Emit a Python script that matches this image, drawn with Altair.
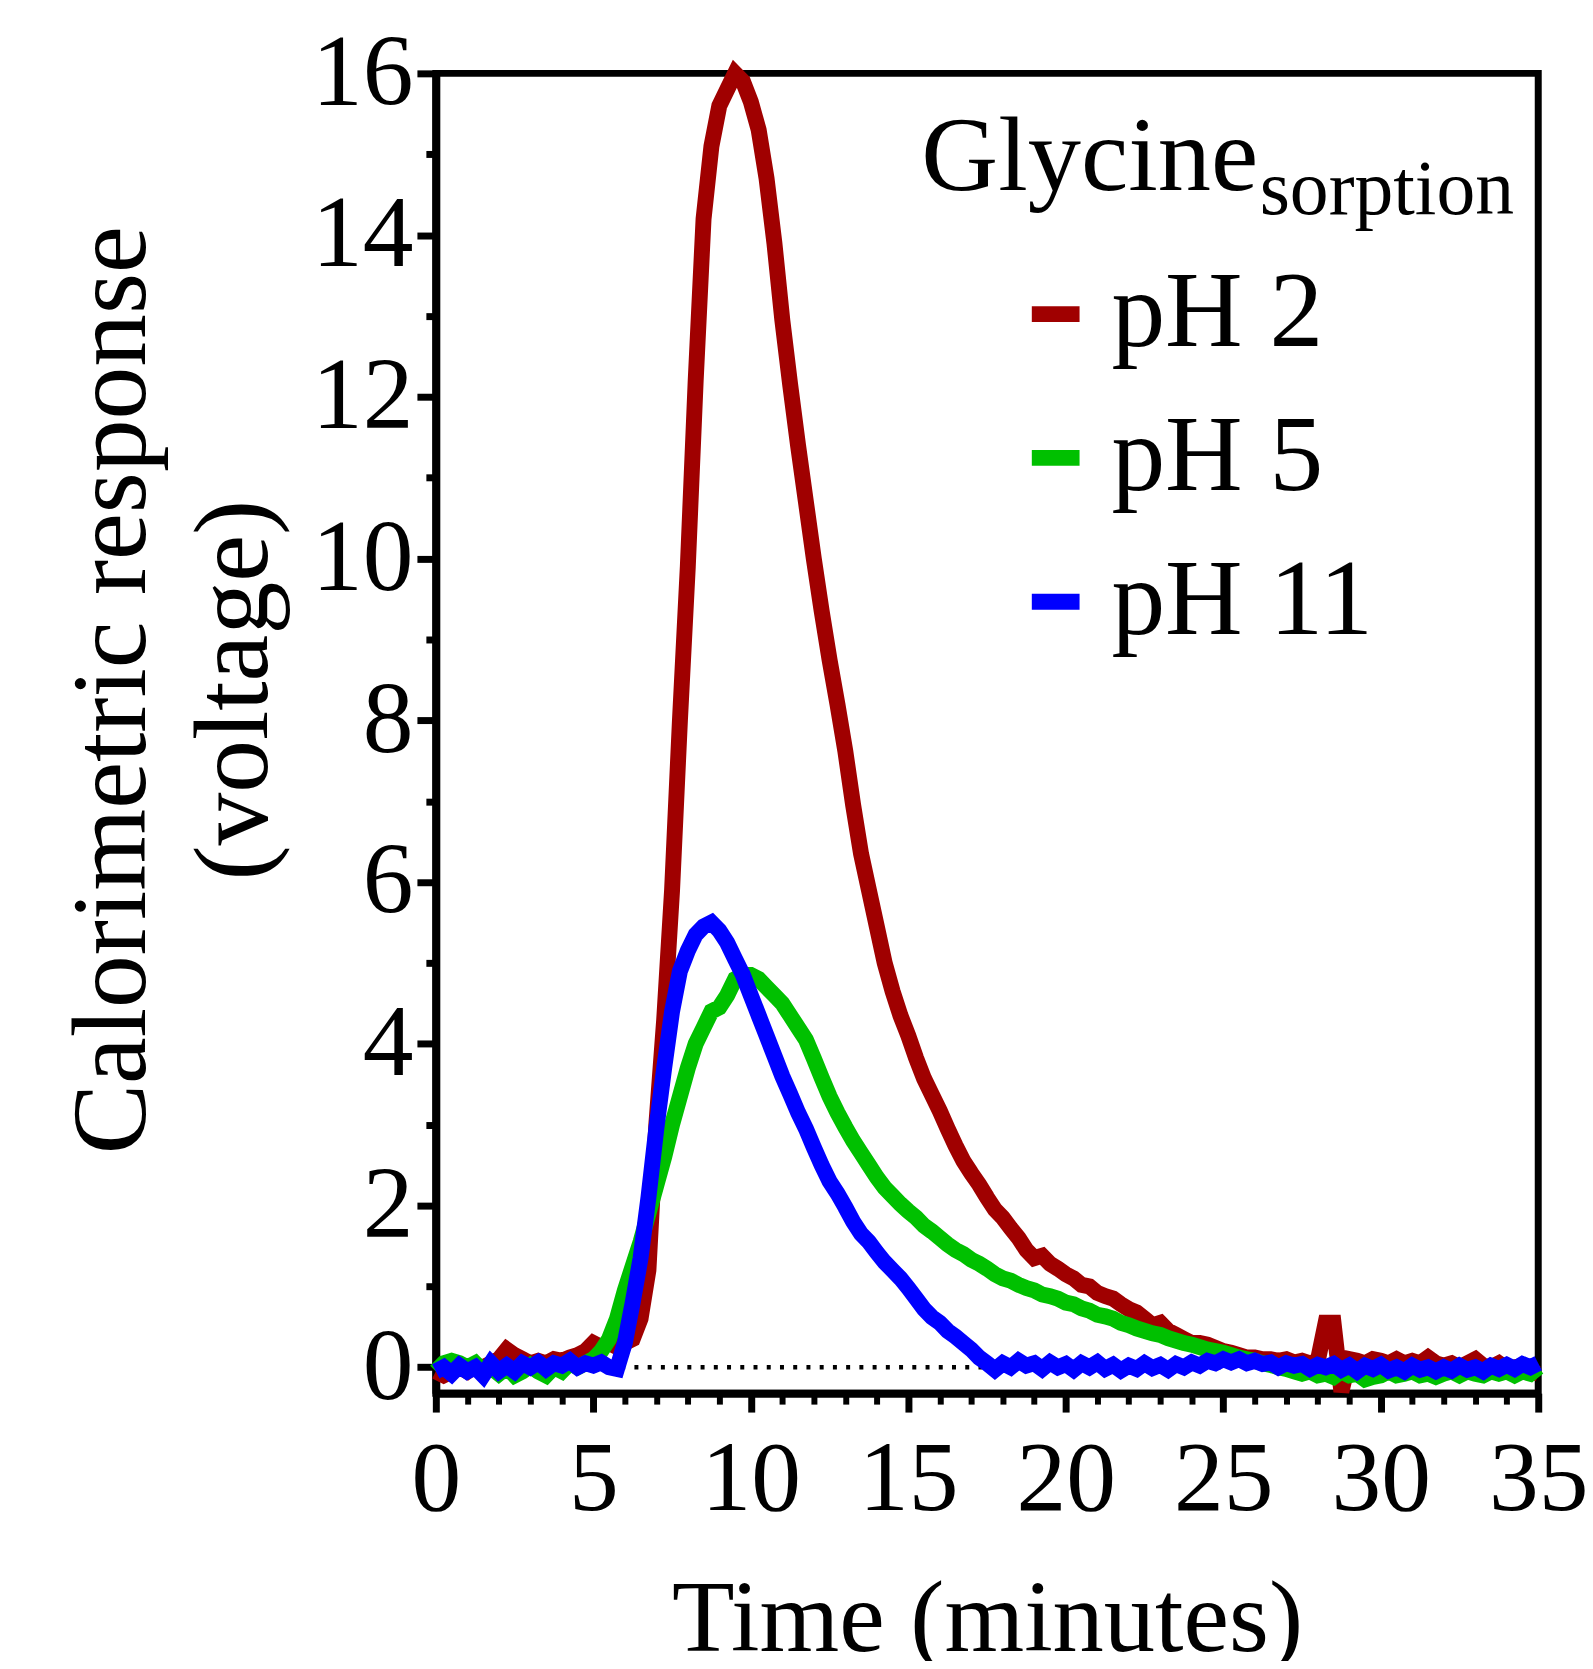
import altair as alt
import pandas as pd

FONT = "Liberation Serif"

series_names = ["pH 2", "pH 5", "pH 11"]
series_colors = ["#A00000", "#00C000", "#0000FF"]

time_min = [
    0, 0.25, 0.5, 0.75, 1, 1.25, 1.5, 1.75, 2, 2.25, 2.5, 2.75, 3, 3.25, 3.5, 3.75, 4, 4.25, 4.5, 4.75,
    5, 5.25, 5.5, 5.75, 6, 6.25, 6.5, 6.75, 7, 7.25, 7.5, 7.75, 8, 8.25, 8.5, 8.75, 9, 9.25, 9.5, 9.75,
    10, 10.25, 10.5, 10.75, 11, 11.25, 11.5, 11.75, 12, 12.25, 12.5, 12.75, 13, 13.25, 13.5, 13.75, 14, 14.25, 14.5, 14.75,
    15, 15.25, 15.5, 15.75, 16, 16.25, 16.5, 16.75, 17, 17.25, 17.5, 17.75, 18, 18.25, 18.5, 18.75, 19, 19.25, 19.5, 19.75,
    20, 20.25, 20.5, 20.75, 21, 21.25, 21.5, 21.75, 22, 22.25, 22.5, 22.75, 23, 23.25, 23.5, 23.75, 24, 24.25, 24.5, 24.75,
    25, 25.25, 25.5, 25.75, 26, 26.25, 26.5, 26.75, 27, 27.25, 27.5, 27.75, 28, 28.25, 28.5, 28.75, 29, 29.25, 29.5, 29.75,
    30, 30.25, 30.5, 30.75, 31, 31.25, 31.5, 31.75, 32, 32.25, 32.5, 32.75, 33, 33.25, 33.5, 33.75, 34, 34.25, 34.5, 34.75,
    35,
]

ph2 = [
    -0.05, -0.1, -0.05, 0.0, -0.05, 0.02, 0.0, 0.05, 0.1, 0.22, 0.15, 0.1, 0.05, 0.08, 0.05, 0.1, 0.08, 0.12, 0.15, 0.2,
    0.3, 0.25, 0.3, 0.25, 0.3, 0.35, 0.6, 1.2, 3.0, 4.3, 5.9, 8.0, 9.9, 12.2, 14.2, 15.1, 15.6, 15.8, 16.0, 15.9,
    15.65, 15.3, 14.7, 13.9, 12.95, 12.15, 11.4, 10.7, 10.0, 9.35, 8.75, 8.2, 7.62, 6.95, 6.35, 5.9, 5.45, 5.0, 4.65, 4.35,
    4.1, 3.82, 3.57, 3.37, 3.17, 2.95, 2.74, 2.55, 2.4, 2.26, 2.1, 1.95, 1.85, 1.72, 1.6, 1.45, 1.35, 1.38, 1.28, 1.22,
    1.15, 1.1, 1.02, 1.0, 0.92, 0.88, 0.85, 0.78, 0.72, 0.68, 0.6, 0.52, 0.55, 0.45, 0.4, 0.35, 0.3, 0.3, 0.28, 0.24,
    0.2, 0.18, 0.15, 0.12, 0.12, 0.1, 0.1, 0.08, 0.1, 0.06, 0.08, 0.05, 0.08, 0.55, 0.55, -0.3, 0.1, 0.08, 0.05, 0.1,
    0.08, 0.05, 0.1, 0.05, 0.08, 0.05, 0.12, 0.05, 0.02, 0.05, 0.0, 0.05, 0.1, 0.02, 0.0, 0.05, -0.02, 0.0, 0.02, -0.05,
    -0.08,
]

ph5 = [
    -0.05, 0.05, 0.08, 0.05, 0.0, 0.05, -0.05, 0.0, -0.08, 0.0, -0.1, -0.05, 0.02, -0.05, -0.1, 0.0, -0.05, 0.05, 0.0, 0.05,
    0.1, 0.2, 0.35, 0.6, 0.95, 1.25, 1.55, 1.9, 2.25, 2.6, 3.0, 3.35, 3.7, 4.0, 4.2, 4.4, 4.45, 4.6, 4.8, 4.85,
    4.85, 4.8, 4.7, 4.6, 4.5, 4.35, 4.2, 4.05, 3.82, 3.58, 3.35, 3.15, 2.97, 2.8, 2.65, 2.5, 2.35, 2.22, 2.12, 2.02,
    1.93, 1.85, 1.75, 1.68, 1.6, 1.52, 1.45, 1.4, 1.33, 1.28, 1.22, 1.15, 1.1, 1.07, 1.02, 0.98, 0.95, 0.9, 0.88, 0.85,
    0.8, 0.78, 0.73, 0.7, 0.65, 0.63, 0.6, 0.55, 0.52, 0.48, 0.45, 0.42, 0.4, 0.36, 0.33, 0.3, 0.28, 0.25, 0.22, 0.2,
    0.18, 0.15, 0.12, 0.1, 0.08, 0.05, 0.03, 0.0, -0.02, -0.05, -0.08, -0.05, -0.1, -0.08, -0.12, -0.05, -0.1, -0.08, -0.15, -0.12,
    -0.1, -0.05, -0.1, -0.08, -0.05, -0.1, -0.08, -0.12, -0.08, -0.05, -0.1, -0.05, -0.08, -0.1, -0.05, -0.08, -0.05, -0.1, -0.05, -0.08,
    0.0,
]

ph11 = [
    -0.05, 0.0, -0.08, 0.02, -0.05, 0.0, -0.1, 0.05, -0.05, 0.02, -0.05, 0.05, 0.0, 0.06, -0.02, 0.05, 0.02, 0.08, 0.0, 0.05,
    0.02, 0.06, 0.0, -0.02, 0.3, 0.8, 1.35, 2.1, 2.95, 3.7, 4.4, 4.9, 5.15, 5.35, 5.45, 5.5, 5.4, 5.25, 5.05, 4.85,
    4.6, 4.35, 4.1, 3.85, 3.6, 3.38, 3.15, 2.95, 2.72, 2.5, 2.3, 2.15, 1.98, 1.8, 1.65, 1.55, 1.42, 1.3, 1.2, 1.1,
    0.98, 0.85, 0.72, 0.62, 0.55, 0.45, 0.38, 0.3, 0.22, 0.12, 0.05, -0.03, 0.05, 0.0, 0.08, 0.02, 0.05, -0.02, 0.06, 0.0,
    0.04, -0.03, 0.05, 0.0, 0.06, -0.02, 0.03, -0.04, 0.02, -0.02, 0.05, -0.01, 0.03, -0.03, 0.04, 0.0, 0.06, 0.02, 0.08, 0.05,
    0.1, 0.06, 0.1, 0.05, 0.08, 0.04, 0.06, 0.0, 0.05, 0.02, 0.04, -0.02, 0.03, 0.0, 0.04, -0.03, 0.02, -0.05, 0.02, -0.02,
    0.03, -0.04, 0.0, -0.05, 0.02, -0.03, 0.0, -0.05, 0.0, -0.04, 0.02, -0.03, 0.0, -0.05, 0.02, -0.02, 0.03, -0.02, 0.04, 0.0,
    0.05,
]

x_major = [0, 5, 10, 15, 20, 25, 30, 35]
x_minor = [1, 2, 3, 4, 6, 7, 8, 9, 11, 12, 13, 14, 16, 17, 18, 19, 21, 22, 23, 24,
           26, 27, 28, 29, 31, 32, 33, 34]
y_major = [0, 2, 4, 6, 8, 10, 12, 14, 16]
y_minor = [1, 3, 5, 7, 9, 11, 13, 15]

x_domain = [0, 35]
y_domain = [-0.32, 16]

rows = []
for name, vals in zip(series_names, [ph2, ph5, ph11]):
    for t, v in zip(time_min, vals):
        rows.append({"t": t, "v": v, "series": name})
df = pd.DataFrame(rows)

xs = alt.Scale(domain=x_domain, nice=False, zero=False)
ys = alt.Scale(domain=y_domain, nice=False, zero=False)

zero_rule = alt.Chart(pd.DataFrame({"t": [0], "v": [0]})).mark_rule(
    color="black", strokeWidth=4.5, strokeDash=[4, 9.3]
).encode(y=alt.Y("v:Q", scale=ys, axis=None))

minor = alt.Chart(pd.DataFrame({"t": [0], "v": [0]})).mark_point(opacity=0).encode(
    x=alt.X("t:Q", scale=xs, axis=alt.Axis(
        orient="bottom", values=x_minor, labels=False, domain=False, grid=False,
        tickSize=11, tickWidth=6, tickColor="black", title="")),
    y=alt.Y("v:Q", scale=ys, axis=alt.Axis(
        orient="left", values=y_minor, labels=False, domain=False, grid=False,
        tickSize=10, tickWidth=7, tickColor="black", title="")),
)

lines = alt.Chart(df).mark_line(strokeWidth=16).encode(
    x=alt.X("t:Q", scale=xs, axis=alt.Axis(
        orient="bottom", values=x_major, format="d", grid=False,
        domainColor="black", domainWidth=8, tickColor="black", tickWidth=7, tickSize=19,
        labelFont=FONT, labelFontSize=100, labelColor="black", labelPadding=19,
        labelFlush=False, labelOverlap=False, labelBound=False,
        title="Time (minutes)", titleFont=FONT, titleFontSize=103, titleFontWeight="normal",
        titleColor="black", titleX=554, titleY=259, titleAlign="center", titleBaseline="alphabetic")),
    y=alt.Y("v:Q", scale=ys, axis=alt.Axis(
        orient="left", values=y_major, format="d", grid=False,
        domainColor="black", domainWidth=8, tickColor="black", tickWidth=7, tickSize=19,
        labelFont=FONT, labelFontSize=102, labelColor="black", labelPadding=4,
        labelFlush=False, labelOverlap=False, labelBound=False,
        title=["Calorimetric response", "(voltage)"], titleFont=FONT, titleFontSize=106,
        titleFontWeight="normal", titleColor="black", titleAngle=270,
        titleX=-293, titleY=619.5, titleAlign="center", titleBaseline="alphabetic",
        titleLineHeight=123)),
    color=alt.Color("series:N", scale=alt.Scale(domain=series_names, range=series_colors),
                    legend=alt.Legend(
                        title=None, orient="none", legendX=569, legendY=188, padding=0,
                        symbolType="stroke", symbolStrokeWidth=16, symbolSize=2304,
                        labelFont=FONT, labelFontSize=108, labelColor="black",
                        labelOffset=2, rowPadding=36.5, labelLimit=1000)),
)

glycine = alt.Chart(pd.DataFrame({"s": ["Glycine"]})).mark_text(
    align="left", baseline="alphabetic", font=FONT, fontSize=107, color="black"
).encode(x=alt.value(488), y=alt.value(117), text="s:N")

sorption = alt.Chart(pd.DataFrame({"s": ["sorption"]})).mark_text(
    align="left", baseline="alphabetic", font=FONT, fontSize=78, color="black"
).encode(x=alt.value(828), y=alt.value(141), text="s:N")

chart = alt.layer(zero_rule, minor, lines, glycine, sorption).resolve_axis(
    x="independent", y="independent"
).properties(
    width=1108, height=1326.5,
    padding={"left": 430, "top": 61.5, "right": 47, "bottom": 265},
    autosize=alt.AutoSizeParams(type="none"),
).configure(font=FONT).configure_view(stroke="black", strokeWidth=7)

chart.save("out.html", embed_options={"renderer": "svg", "actions": False})
